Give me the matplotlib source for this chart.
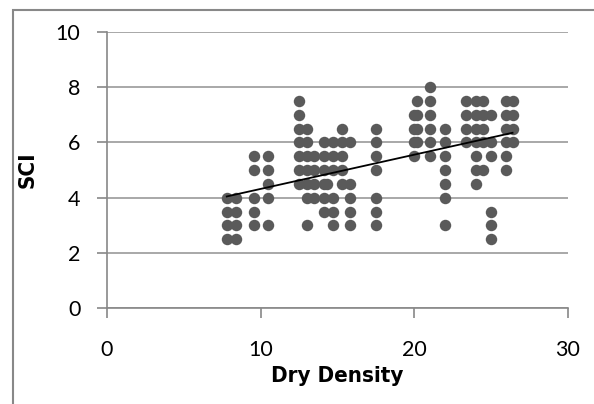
import matplotlib
matplotlib.use('Agg')
import matplotlib.pyplot as plt
from matplotlib.patches import Rectangle
import numpy as np

# columns of points: (dry density, list of SCI values)
col_x = [7.8, 8.4, 9.6, 10.5, 12.5, 13.0, 13.5, 14.1, 14.3, 14.7, 15.3, 15.8,
         17.5, 20.0, 20.2, 21.0, 22.0, 23.4, 24.0, 24.5, 25.0, 26.0, 26.4]
col_sci = [
    [4, 3.5, 3, 2.5],
    [4, 3.5, 3, 2.5],
    [5.5, 5, 4, 3.5, 3],
    [5.5, 5, 4.5, 4, 3],
    [7.5, 7, 6.5, 6, 5.5, 5, 4.5],
    [6.5, 6, 5.5, 5, 4.5, 4, 3],
    [5.5, 5, 4.5, 4],
    [6, 5.5, 5, 4.5, 4, 3.5],
    [4.5],
    [6, 5.5, 5, 4, 3.5, 3],
    [6.5, 6, 5.5, 5, 4.5],
    [6, 4.5, 4, 3.5, 3],
    [6.5, 6, 5.5, 5, 4, 3.5, 3],
    [7, 6.5, 6, 5.5],
    [7.5, 7, 6.5, 6],
    [8, 7.5, 7, 6.5, 6, 5.5],
    [6.5, 6, 5.5, 5, 4.5, 4, 3],
    [7.5, 7, 6.5, 6],
    [7.5, 7, 6.5, 6, 5.5, 5, 4.5],
    [7.5, 7, 6.5, 6, 5],
    [7, 6, 5.5, 3.5, 3, 2.5],
    [7.5, 7, 6.5, 6, 5.5, 5],
    [7.5, 7, 6.5, 6],
]

x = np.concatenate([[cx] * len(v) for cx, v in zip(col_x, col_sci)])
y = np.concatenate(col_sci)

fig = plt.figure(figsize=(5.94, 4.04), dpi=100)
ax = fig.add_axes([0.180, 0.237, 0.776, 0.684])

ax.scatter(x, y, s=68, color='#5a5a5a', zorder=3, linewidths=0)

# linear trendline
k, b = np.polyfit(x, y, 1)
xl = np.array([x.min(), x.max()])
ax.plot(xl, k * xl + b, color='black', lw=1.3, zorder=4)

ax.set_xlim(0, 30)
ax.set_ylim(0, 10)
ax.set_xticks([0, 10, 20, 30])
ax.set_yticks([0, 2, 4, 6, 8, 10])
ax.yaxis.grid(True, color='#999999', lw=1.2)
ax.set_axisbelow(True)

for s in ['top', 'right']:
    ax.spines[s].set_visible(False)
for s in ['left', 'bottom']:
    ax.spines[s].set_color('#888888')
    ax.spines[s].set_linewidth(1.2)
ax.tick_params(axis='both', colors='#888888', direction='out', length=7, width=1.2,
               labelcolor='black', labelsize=15.5)
for lab in ax.get_xticklabels() + ax.get_yticklabels():
    lab.set_family(['Lato', 'DejaVu Sans'])
ax.tick_params(axis='x', pad=16)
ax.tick_params(axis='y', pad=12)

lab_font = dict(fontsize=16, fontweight='bold', fontstretch='condensed',
                family=['Liberation Sans Narrow', 'DejaVu Sans'])
ax.set_xlabel('Dry Density', labelpad=4, **lab_font)
ax.set_ylabel('SCI', labelpad=13, **lab_font)

# outer chart border
fig.patches.append(Rectangle((13 / 594, -0.1), 1.2, 1.1 - 10 / 404, transform=fig.transFigure,
                             fill=False, edgecolor='#888888', lw=1.5))

fig.savefig('out.png', dpi=100)
